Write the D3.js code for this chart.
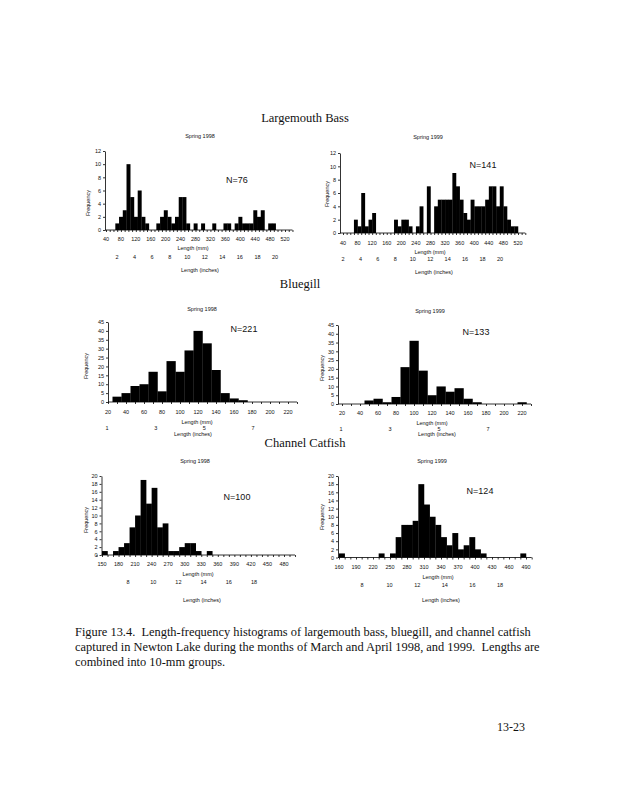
<!DOCTYPE html>
<html>
<head>
<meta charset="utf-8">
<script src="https://cdn.jsdelivr.net/npm/d3@7"></script>
<style>
  body { margin: 0; background: #fff; }
  svg text { fill: #111; }
</style>
</head>
<body>
<script>
// ---- data: bin centres (mm, 10-mm groups) and frequencies ----
const bass98Bins   = [70, 80, 90, 100, 110, 120, 130, 140, 150, 180, 190, 200, 210, 220, 230, 240, 250, 260, 280, 300, 330, 360, 370, 390, 400, 410, 420, 430, 440, 450, 460, 480, 490];
const bass98Counts = [1, 2, 3, 10, 5, 2, 6, 2, 1, 1, 2, 3, 2, 1, 2, 5, 5, 1, 1, 1, 1, 1, 1, 1, 2, 1, 1, 1, 3, 2, 3, 1, 1];

const bass99Bins   = [75, 85, 95, 105, 115, 125, 185, 195, 205, 215, 225, 245, 255, 275, 295, 305, 315, 325, 335, 345, 355, 365, 375, 385, 395, 405, 415, 425, 435, 445, 455, 465, 475, 485, 495, 505, 515];
const bass99Counts = [2, 1, 6, 1, 2, 3, 2, 1, 2, 2, 1, 1, 4, 7, 4, 5, 5, 5, 5, 9, 7, 5, 3, 2, 5, 4, 4, 4, 5, 7, 7, 4, 7, 4, 2, 1, 1];

const gill98Bins   = [30, 40, 50, 60, 70, 80, 90, 100, 110, 120, 130, 140, 150, 160, 170];
const gill98Counts = [3, 5, 9, 10, 17, 6, 23, 17, 29, 40, 33, 18, 5, 2, 1];

const gill99Bins   = [50, 60, 70, 80, 90, 100, 110, 120, 130, 140, 150, 160, 170, 220];
const gill99Counts = [2, 3, 1, 4, 21, 36, 19, 5, 10, 7, 9, 3, 1, 1];

const cat98Bins    = [155, 175, 185, 195, 205, 215, 225, 235, 245, 255, 265, 275, 285, 295, 305, 315, 325, 345];
const cat98Counts  = [1, 1, 2, 3, 7, 10, 19, 13, 17, 7, 8, 1, 1, 2, 3, 3, 1, 1];

const cat99Bins    = [165, 235, 255, 265, 275, 285, 295, 305, 315, 325, 335, 345, 355, 365, 375, 385, 395, 405, 415, 485];
const cat99Counts  = [1, 1, 1, 5, 8, 8, 9, 18, 13, 10, 8, 5, 3, 6, 2, 3, 5, 2, 1, 1];

// ---- tick labels ----
const bassMmTicks   = [40, 80, 120, 160, 200, 240, 280, 320, 360, 400, 440, 480, 520];
const bassInchTicks = [2, 4, 6, 8, 10, 12, 14, 16, 18, 20];
const bassFreqTicks = [0, 2, 4, 6, 8, 10, 12];
const gillMmTicks   = [20, 40, 60, 80, 100, 120, 140, 160, 180, 200, 220];
const gillInchTicks = [1, 3, 5, 7];
const gillFreqTicks = [0, 5, 10, 15, 20, 25, 30, 35, 40, 45];
const cat98MmTicks  = [150, 180, 210, 240, 270, 300, 330, 360, 390, 420, 450, 480];
const cat99MmTicks  = [160, 190, 220, 250, 280, 310, 340, 370, 400, 430, 460, 490];
const catInchTicks  = [8, 10, 12, 14, 16, 18];
const catFreqTicks  = [0, 2, 4, 6, 8, 10, 12, 14, 16, 18, 20];

const W = 618, H = 800;
const svg = d3.select('body').append('svg')
  .attr('width', W).attr('height', H)
  .style('font-family', '"Liberation Sans", Arial, sans-serif');

const serif = '"Liberation Serif", "Times New Roman", serif';

// layout of each small histogram (pixel positions only)
const panels = [
  { title: 'Spring 1998', bins: bass98Bins, counts: bass98Counts, n: 'N=76',
    mm: bassMmTicks, mmDom: [40, 520], mmRange: [106, 285], minor: [40, 540],
    inch: bassInchTicks, inchRange: [117, 275],
    yt: bassFreqTicks, yRange: [230, 151], axisX: 105,
    titleXY: [200, 138], nXY: [237, 183], freqXY: [87.5, 203],
    yLab: 241, yMm: [193, 250], yIn: 259, yInLab: [200, 272] },
  { title: 'Spring 1999', bins: bass99Bins, counts: bass99Counts, n: 'N=141',
    mm: bassMmTicks, mmDom: [40, 520], mmRange: [343, 518], minor: [40, 540],
    inch: bassInchTicks, inchRange: [343, 500],
    yt: bassFreqTicks, yRange: [233, 153], axisX: 340,
    titleXY: [428, 139], nXY: [483, 168], freqXY: [327, 194],
    yLab: 245, yMm: [430, 254], yIn: 260.5, yInLab: [434, 274] },
  { title: 'Spring 1998', bins: gill98Bins, counts: gill98Counts, n: 'N=221',
    mm: gillMmTicks, mmDom: [20, 220], mmRange: [108, 288], minor: [20, 230],
    inch: gillInchTicks, inchRange: [107, 253],
    yt: gillFreqTicks, yRange: [402, 322], axisX: 108,
    titleXY: [202, 311], nXY: [244, 332], freqXY: [85.5, 366],
    yLab: 414, yMm: [197, 424], yIn: 429.5, yInLab: [193, 435.5] },
  { title: 'Spring 1999', bins: gill99Bins, counts: gill99Counts, n: 'N=133',
    mm: gillMmTicks, mmDom: [20, 220], mmRange: [342, 522], minor: [20, 230],
    inch: gillInchTicks, inchRange: [341, 488],
    yt: gillFreqTicks, yRange: [404, 325], axisX: 338,
    titleXY: [430, 312.5], nXY: [476, 334.5], freqXY: [322, 368],
    yLab: 415, yMm: [432, 425], yIn: 430.5, yInLab: [437, 435.5] },
  { title: 'Spring 1998', bins: cat98Bins, counts: cat98Counts, n: 'N=100',
    mm: cat98MmTicks, mmDom: [150, 480], mmRange: [102, 284], minor: [140, 500],
    inch: catInchTicks, inchRange: [128, 254],
    yt: catFreqTicks, yRange: [555, 476], axisX: 101.5,
    titleXY: [195, 462.5], nXY: [237, 500], freqXY: [85.5, 520],
    yLab: 565.5, yMm: [198, 576], yIn: 584, yInLab: [202, 601.5] },
  { title: 'Spring 1999', bins: cat99Bins, counts: cat99Counts, n: 'N=124',
    mm: cat99MmTicks, mmDom: [160, 490], mmRange: [339, 526], minor: [160, 500],
    inch: catInchTicks, inchRange: [362, 500],
    yt: catFreqTicks, yRange: [557.5, 476], axisX: 338,
    titleXY: [432, 462.5], nXY: [480, 493.5], freqXY: [322, 517],
    yLab: 569, yMm: [438, 579], yIn: 586.5, yInLab: [441, 602] }
];

const small = 5.5;

panels.forEach(p => {
  const x = d3.scaleLinear().domain(p.mmDom).range(p.mmRange);
  const y = d3.scaleLinear().domain([0, p.yt[p.yt.length - 1]]).range(p.yRange);
  const xi = d3.scaleLinear().domain([p.inch[0], p.inch[p.inch.length - 1]]).range(p.inchRange);
  const g = svg.append('g');

  // bars
  const rows = p.bins.map((b, i) => ({ b: b, n: p.counts[i] }));
  g.selectAll('rect').data(rows).join('rect')
    .attr('x', d => x(d.b - 5))
    .attr('width', d => x(d.b + 5) - x(d.b - 5) + 0.25)
    .attr('y', d => y(d.n))
    .attr('height', d => y(0) - y(d.n))
    .attr('fill', '#000');

  // x axis: line + 10-mm ticks
  const minorTicks = [];
  for (let v = p.minor[0]; v <= p.minor[1]; v += 10) minorTicks.push(v);
  const xAxis = g.append('g')
    .attr('transform', `translate(0,${y(0)})`)
    .call(d3.axisBottom(x).tickValues(minorTicks).tickSize(2).tickSizeOuter(0).tickFormat(''));
  xAxis.select('.domain').attr('d', `M${p.axisX},0H${x(p.minor[1])}`);
  xAxis.selectAll('line, path').attr('stroke', '#000').attr('stroke-width', 0.8);

  g.selectAll('text.mm').data(p.mm).join('text')
    .attr('class', 'mm')
    .attr('x', d => x(d)).attr('y', p.yLab)
    .attr('text-anchor', 'middle').style('font-size', small + 'px')
    .text(d => d);

  // y axis
  const yAxis = g.append('g')
    .attr('transform', `translate(${p.axisX},0)`)
    .call(d3.axisLeft(y).tickValues(p.yt).tickSize(2).tickSizeOuter(0).tickPadding(2));
  yAxis.selectAll('line, path').attr('stroke', '#000').attr('stroke-width', 0.8);
  yAxis.selectAll('text').style('font-size', small + 'px').style('font-family', 'inherit').attr('fill', '#111');

  // labels
  g.append('text').attr('x', p.titleXY[0]).attr('y', p.titleXY[1])
    .attr('text-anchor', 'middle').style('font-size', small + 'px').text(p.title);
  g.append('text').attr('x', p.nXY[0]).attr('y', p.nXY[1])
    .attr('text-anchor', 'middle').style('font-size', '9px').text(p.n);
  g.append('text')
    .attr('transform', `translate(${p.freqXY[0] + 2},${p.freqXY[1]}) rotate(-90)`)
    .attr('text-anchor', 'middle').style('font-size', small + 'px').text('Frequency');
  g.append('text').attr('x', p.yMm[0]).attr('y', p.yMm[1])
    .attr('text-anchor', 'middle').style('font-size', small + 'px').text('Length (mm)');
  g.selectAll('text.in').data(p.inch).join('text')
    .attr('class', 'in')
    .attr('x', d => xi(d)).attr('y', p.yIn)
    .attr('text-anchor', 'middle').style('font-size', small + 'px')
    .text(d => d);
  g.append('text').attr('x', p.yInLab[0]).attr('y', p.yInLab[1])
    .attr('text-anchor', 'middle').style('font-size', small + 'px').text('Length (inches)');
});

// species headings
const headings = [['Largemouth Bass', 305, 122], ['Bluegill', 300, 288], ['Channel Catfish', 305, 447]];
headings.forEach(h => {
  svg.append('text').attr('x', h[1]).attr('y', h[2])
    .attr('text-anchor', 'middle')
    .style('font-family', serif).style('font-size', '12.5px')
    .text(h[0]);
});

// caption
const caption = [
  'Figure 13.4.  Length-frequency histograms of largemouth bass, bluegill, and channel catfish',
  'captured in Newton Lake during the months of March and April 1998, and 1999.  Lengths are',
  'combined into 10-mm groups.'
];
svg.selectAll('text.cap').data(caption).join('text')
  .attr('class', 'cap')
  .attr('x', 75).attr('y', (d, i) => 636 + i * 15)
  .style('font-family', serif).style('font-size', '12.4px')
  .attr('xml:space', 'preserve')
  .text(d => d);

svg.append('text').attr('x', 497).attr('y', 731)
  .style('font-family', serif).style('font-size', '12px').text('13-23');
</script>
</body>
</html>
